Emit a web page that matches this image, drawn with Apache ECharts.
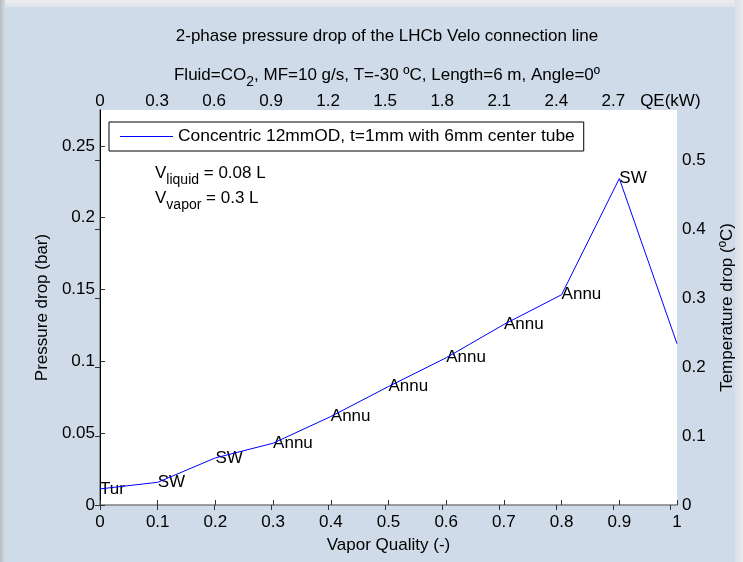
<!DOCTYPE html>
<html>
<head>
<meta charset="utf-8">
<script src="https://cdn.jsdelivr.net/npm/echarts@6/dist/echarts.min.js"></script>
<style>
  html, body { margin: 0; padding: 0; background: #cfdbe8; }
  #chart { width: 743px; height: 562px; }
</style>
</head>
<body>
<div id="chart"></div>
<script>
// Vapor quality along the line and the computed pressure drop at each step
const quality = [0, 0.1, 0.2, 0.3, 0.4, 0.5, 0.6, 0.7, 0.8, 0.9, 1.0];
const pressureDrop = [0.0112, 0.0158, 0.0328, 0.0430, 0.0616, 0.0825, 0.1025, 0.1257, 0.1464, 0.2273, 0.1123];
// Flow regime printed next to each point
const flowRegime = ['Tur', 'SW', 'SW', 'Annu', 'Annu', 'Annu', 'Annu', 'Annu', 'Annu', 'SW', ''];

// Axis ranges
const pressureMax = 0.275;     // bar
const tempDropMax = 0.573;     // ºC
const heatLoadMax = 3.035;     // kW at x = 1
const heatLoadUnitTick = 3.0;  // this tick carries the unit label

const seriesName = 'Concentric 12mmOD, t=1mm with 6mm center tube';

const FONT = "'Liberation Sans', Arial, Helvetica, sans-serif";
const FS = 17;

const measureCtx = document.createElement('canvas').getContext('2d');
function textWidth(str, size) {
  measureCtx.font = size + 'px ' + FONT;
  return measureCtx.measureText(str).width;
}

// Lay out a run of text pieces, some of them subscripted
function runText(pieces, x, y, align) {
  const total = pieces.reduce((s, p) => s + textWidth(p.t, p.sub ? 14 : FS), 0);
  let cx = align === 'center' ? x - total / 2 : x;
  const els = [];
  pieces.forEach(p => {
    const size = p.sub ? 14 : FS;
    els.push({
      type: 'text', x: cx, y: p.sub ? y + 7 : y, silent: true,
      style: { text: p.t, fontSize: size, fontFamily: FONT, fill: '#000',
               align: 'left', verticalAlign: 'middle' }
    });
    cx += textWidth(p.t, size);
  });
  return els;
}

const pts = quality.map((q, i) => [q, pressureDrop[i]]);

const chart = echarts.init(document.getElementById('chart'), null, { renderer: 'canvas' });

const graphics = [
  // frame shading along the edges
  { type: 'rect', shape: { x: 0, y: 0, width: 743, height: 7 }, silent: true,
    style: { fill: new echarts.graphic.LinearGradient(0, 0, 0, 1, [
      { offset: 0, color: '#ececec' }, { offset: 1, color: '#dfe4ea' }]) } },
  { type: 'rect', shape: { x: 0, y: 0, width: 5, height: 562 }, silent: true,
    style: { fill: new echarts.graphic.LinearGradient(0, 0, 1, 0, [
      { offset: 0, color: '#b9bcc0' }, { offset: 1, color: '#cfdbe8' }]) } },
  { type: 'rect', shape: { x: 735, y: 0, width: 8, height: 562 }, silent: true,
    style: { fill: new echarts.graphic.LinearGradient(0, 0, 1, 0, [
      { offset: 0, color: '#d8e0e9' }, { offset: 1, color: '#ececec' }]) } },
  { type: 'text', x: 387, y: 36, silent: true,
    style: { text: '2-phase pressure drop of the LHCb Velo connection line',
             fontSize: FS, fontFamily: FONT, fill: '#000', align: 'center', verticalAlign: 'middle' } }
].concat(
  runText([{ t: 'Fluid=CO' }, { t: '2', sub: true },
           { t: ', MF=10 g/s, T=-30 ºC, Length=6 m, Angle=0º' }], 387, 75, 'center'),
  runText([{ t: 'V' }, { t: 'liquid', sub: true }, { t: ' = 0.08 L' }], 155, 173, 'left'),
  runText([{ t: 'V' }, { t: 'vapor', sub: true }, { t: ' = 0.3 L' }], 155, 198, 'left')
);

const option = {
  animation: false,
  backgroundColor: '#cfdbe8',
  textStyle: { fontFamily: FONT },
  grid: { left: 100, top: 110, right: 66, bottom: 57, show: true,
          containLabel: false, outerBoundsMode: 'none',
          backgroundColor: '#ffffff', borderWidth: 0 },
  legend: {
    left: 109, top: 122, orient: 'horizontal',
    padding: [6, 9, 6, 11],
    borderColor: '#000', borderWidth: 1, backgroundColor: '#fff',
    itemWidth: 53, itemHeight: 1, itemGap: 0, icon: 'rect',
    textStyle: { fontSize: 17.4, fontFamily: FONT, color: '#000' },
    data: [{ name: seriesName, icon: 'rect' }]
  },
  xAxis: [
    { type: 'value', position: 'bottom', min: 0, max: 1, interval: 0.1,
      name: 'Vapor Quality (-)', nameLocation: 'middle', nameGap: 32,
      nameTextStyle: { fontSize: FS, color: '#000', fontFamily: FONT },
      axisLine: { show: true, lineStyle: { color: '#7f7f7f', width: 1.5 } },
      axisTick: { show: true, inside: true, length: 5, lineStyle: { color: '#333' } },
      axisLabel: { fontSize: FS, color: '#000', margin: 9 },
      splitLine: { show: false } },
    { type: 'value', position: 'top', min: 0, max: heatLoadMax, interval: 0.3,
      axisLine: { show: false },
      axisTick: { show: true, inside: true, length: 5, lineStyle: { color: '#333' } },
      axisLabel: { fontSize: FS, color: '#000', margin: 0, showMaxLabel: false,
        formatter: v => Math.abs(v - heatLoadUnitTick) < 1e-6 ? 'QE(kW)' : String(+v.toFixed(1)) },
      splitLine: { show: false } }
  ],
  yAxis: [
    { type: 'value', position: 'left', min: 0, max: pressureMax, interval: 0.05,
      name: 'Pressure drop (bar)', nameLocation: 'middle', nameGap: 43, nameRotate: 90,
      nameTextStyle: { fontSize: FS, color: '#000', fontFamily: FONT },
      axisLine: { show: true, lineStyle: { color: '#7f7f7f', width: 1.5 } },
      axisTick: { show: true, inside: true, length: 5, lineStyle: { color: '#333' } },
      axisLabel: { fontSize: FS, color: '#000', margin: 5, showMaxLabel: false },
      splitLine: { show: false } },
    { type: 'value', position: 'right', min: 0, max: tempDropMax, interval: 0.1,
      name: 'Temperature drop (ºC)', nameLocation: 'middle', nameGap: 42, nameRotate: 90,
      nameTextStyle: { fontSize: FS, color: '#000', fontFamily: FONT },
      axisLine: { show: true, lineStyle: { color: '#000', width: 1 } },
      axisTick: { show: true, inside: true, length: 5, lineStyle: { color: '#333' } },
      axisLabel: { fontSize: FS, color: '#000', margin: 5, showMaxLabel: false },
      splitLine: { show: false } }
  ],
  series: [
    { name: seriesName, type: 'line', xAxisIndex: 0, yAxisIndex: 0,
      data: pts, symbol: 'none', color: '#0000ff',
      itemStyle: { color: '#0000ff' },
      lineStyle: { color: '#0000ff', width: 1 } },
    { name: 'regime', type: 'scatter', xAxisIndex: 0, yAxisIndex: 0,
      data: pts, symbolSize: 0, silent: true,
      itemStyle: { color: '#000', opacity: 1 },
      label: { show: true, position: 'right', distance: 0, opacity: 1,
               fontSize: FS, fontFamily: FONT, color: '#000',
               formatter: p => flowRegime[p.dataIndex] } }
  ],
  graphic: graphics
};

chart.setOption(option);
</script>
</body>
</html>
